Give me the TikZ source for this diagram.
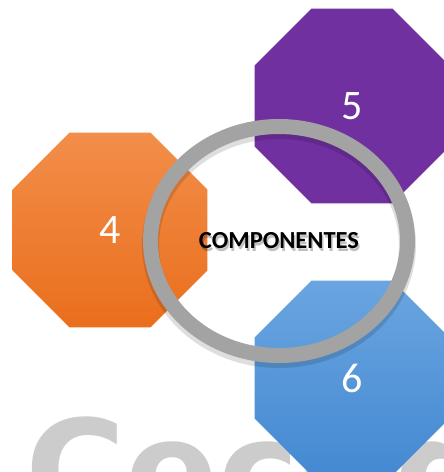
\documentclass[tikz,border=0pt]{standalone}
\usepackage{fontspec}
\setmainfont{Carlito}
\newfontfamily\brandfont{DejaVu Sans}
\usetikzlibrary{shapes.geometric}

\definecolor{octorangetop}{RGB}{242,142,74}
\definecolor{octorangebot}{RGB}{234,110,28}
\definecolor{octpurple}{RGB}{112,48,160}
\definecolor{octbluetop}{RGB}{106,165,224}
\definecolor{octbluebot}{RGB}{68,137,210}
\definecolor{ringgray}{RGB}{163,163,163}
\definecolor{brandgray}{RGB}{204,204,204}

\tikzset{
    octagon/.style={regular polygon, regular polygon sides=8, minimum size=211, inner sep=0pt,
        text=white, font=\fontsize{42}{42}\selectfont},
    ring/.style={ellipse, draw=ringgray, line width=15, minimum width=257, minimum height=229,
        inner sep=0pt, font=\bfseries\fontsize{24.5}{24.5}\selectfont}
}

\begin{document}
\begin{tikzpicture}[x=1pt, y=-1pt, scale=1]
        \useasboundingbox (0,0) rectangle (444,472);
        \fill [white] (0,0) rectangle (444,472);
        \node [font=\brandfont\bfseries\fontsize{137}{137}\selectfont, text=brandgray, anchor=base west, inner sep=0pt] (brand) at (25,518) {Cecod};

        \foreach \name/\x/\y/\topc/\botc/\num in {four/110/230/octorangetop/octorangebot/4,
                five/352/106/octpurple/octpurple/5, six/352/378/octbluetop/octbluebot/6}
            \node [octagon, top color=\topc, bottom color=\botc] (\name) at (\x,\y) {\num};

        % ring with its shadow, label with a soft shadow
        \draw [black, opacity=0.13, line width=17] (279,245) ellipse [x radius=128.5, y radius=114.5];
        \node [ring, draw=none, text=black, opacity=0.25] (comp) at (280.5,243.5) {COMPONENTES};
        \node [ring, draw=none] (label) at (279,241) {COMPONENTES};
        \draw [ringgray, line width=15] (label.center) ellipse [x radius=128.5, y radius=114.5];
    \end{tikzpicture}
\end{document}
